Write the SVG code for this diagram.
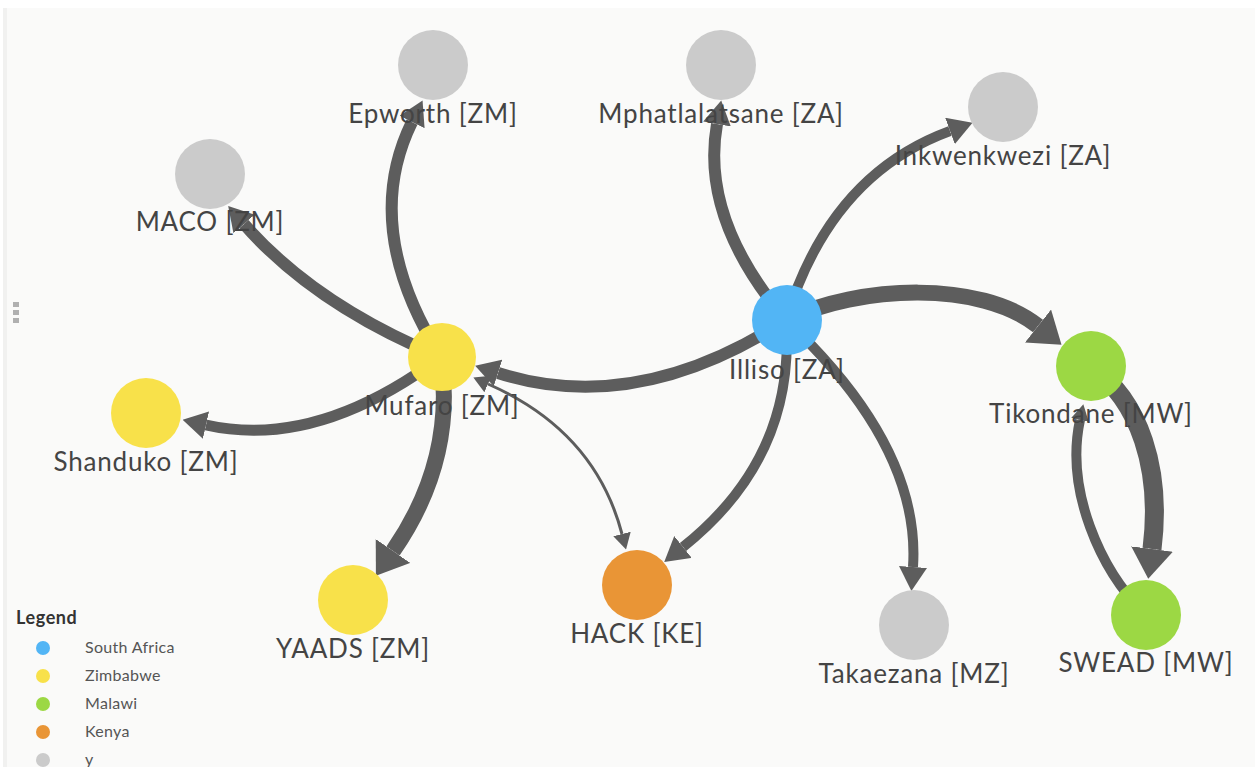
<svg xmlns="http://www.w3.org/2000/svg" width="1255" height="767" viewBox="0 0 1255 767">
<style>
.edge{fill:none;stroke:#5d5d5d;}
.lbl{font-family:Lato,"Liberation Sans",sans-serif;font-size:26px;letter-spacing:0.8px;fill:#444444;text-anchor:middle;}
.leg{font-family:Lato,"Liberation Sans",sans-serif;font-size:16px;letter-spacing:0.3px;fill:#555;}
.za{fill:#52b5f5;}
.zm{fill:#f8e14a;}
.mw{fill:#9cd844;}
.ke{fill:#e99536;}
.y{fill:#cbcbcb;}
</style>
<defs>
<marker id="aL" markerUnits="userSpaceOnUse" viewBox="0 0 30 42" refX="0" refY="21" markerWidth="30" markerHeight="42" orient="auto"><path d="M0,0 L30,21 L0,42 z" fill="#5d5d5d"/></marker>
<marker id="aM" markerUnits="userSpaceOnUse" viewBox="0 0 24 28" refX="0" refY="14" markerWidth="24" markerHeight="28" orient="auto"><path d="M0,0 L24,14 L0,28 z" fill="#5d5d5d"/></marker>
<marker id="aS" markerUnits="userSpaceOnUse" viewBox="0 0 16 18" refX="0" refY="9" markerWidth="16" markerHeight="18" orient="auto-start-reverse"><path d="M0,0 L16,9 L0,18 z" fill="#5d5d5d"/></marker>
</defs>
<rect x="0" y="0" width="1255" height="767" fill="#ffffff"/>
<rect x="3" y="8" width="1252" height="759" fill="#fafaf9"/>
<rect x="3" y="8" width="4" height="759" fill="#f1f1f0"/>
<rect x="13" y="302" width="6" height="5" fill="#b0b0b0"/>
<rect x="13" y="310" width="6" height="5" fill="#b0b0b0"/>
<rect x="13" y="318" width="6" height="5" fill="#b0b0b0"/>
<g id="edges">
<path class="edge" stroke-width="12" d="M441,357 Q315,305 244,224" marker-end="url(#aM)"/>
<path class="edge" stroke-width="12" d="M441,357 Q360,228 412,122" marker-end="url(#aM)"/>
<path class="edge" stroke-width="12" d="M786,320 Q636,417 498,373" marker-end="url(#aM)"/>
<path class="edge" stroke-width="11" d="M441,357 Q316,450 206,425" marker-end="url(#aM)"/>
<path class="edge" stroke-width="16" d="M441,357 Q456,460 393,551" marker-end="url(#aL)"/>
<path class="edge" stroke-width="3" d="M488,384 Q595,431 622,534" marker-start="url(#aS)" marker-end="url(#aS)"/>
<path class="edge" stroke-width="10" d="M786,320 Q796,457 683,547" marker-end="url(#aM)"/>
<path class="edge" stroke-width="10" d="M786,320 Q921,447 913,567" marker-end="url(#aM)"/>
<path class="edge" stroke-width="12" d="M786,320 Q700,219 717,124" marker-end="url(#aM)"/>
<path class="edge" stroke-width="10" d="M786,320 Q830,175 950,131" marker-end="url(#aM)"/>
<path class="edge" stroke-width="16" d="M786,320 C860,285 980,280 1038,326" marker-end="url(#aL)"/>
<path class="edge" stroke-width="19" d="M1090,366 C1140,400 1162,470 1152,549" marker-end="url(#aL)"/>
<path class="edge" stroke-width="10" d="M1145,614 C1100,570 1065,490 1080,420" marker-end="url(#aS)"/>
</g>
<g id="n-epworth"><circle class="y" cx="433" cy="65" r="35"/><text class="lbl" x="433" y="123">Epworth [ZM]</text></g>
<g id="n-mphatlalatsane"><circle class="y" cx="721" cy="65" r="35"/><text class="lbl" x="721" y="123">Mphatlalatsane [ZA]</text></g>
<g id="n-inkwenkwezi"><circle class="y" cx="1003" cy="107" r="35"/><text class="lbl" x="1003" y="165">Inkwenkwezi [ZA]</text></g>
<g id="n-maco"><circle class="y" cx="210" cy="174" r="35"/><text class="lbl" x="210" y="231">MACO [ZM]</text></g>
<g id="n-illiso"><circle class="za" cx="787" cy="320" r="35"/><text class="lbl" x="787" y="379">Illiso [ZA]</text></g>
<g id="n-mufaro"><circle class="zm" cx="442" cy="357" r="34"/><text class="lbl" x="442" y="415">Mufaro [ZM]</text></g>
<g id="n-shanduko"><circle class="zm" cx="146" cy="413" r="35"/><text class="lbl" x="146" y="471">Shanduko [ZM]</text></g>
<g id="n-tikondane"><circle class="mw" cx="1091" cy="366" r="35"/><text class="lbl" x="1091" y="423">Tikondane [MW]</text></g>
<g id="n-yaads"><circle class="zm" cx="353" cy="600" r="35"/><text class="lbl" x="353" y="658">YAADS [ZM]</text></g>
<g id="n-hack"><circle class="ke" cx="637" cy="585" r="35"/><text class="lbl" x="637" y="643">HACK [KE]</text></g>
<g id="n-takaezana"><circle class="y" cx="914" cy="625" r="35"/><text class="lbl" x="914" y="683">Takaezana [MZ]</text></g>
<g id="n-swead"><circle class="mw" cx="1146" cy="615" r="35"/><text class="lbl" x="1146" y="672">SWEAD [MW]</text></g>
<g id="legend">
<text x="16" y="624" font-family="Lato,'Liberation Sans',sans-serif" font-size="18" font-weight="bold" letter-spacing="0.6" fill="#333">Legend</text>
<circle class="za" cx="43" cy="648" r="7"/><text class="leg" x="85" y="653">South Africa</text>
<circle class="zm" cx="43" cy="676" r="7"/><text class="leg" x="85" y="681">Zimbabwe</text>
<circle class="mw" cx="43" cy="704" r="7"/><text class="leg" x="85" y="709">Malawi</text>
<circle class="ke" cx="43" cy="732" r="7"/><text class="leg" x="85" y="737">Kenya</text>
<circle class="y" cx="43" cy="760" r="7"/><text class="leg" x="85" y="765">y</text>
</g>
</svg>
